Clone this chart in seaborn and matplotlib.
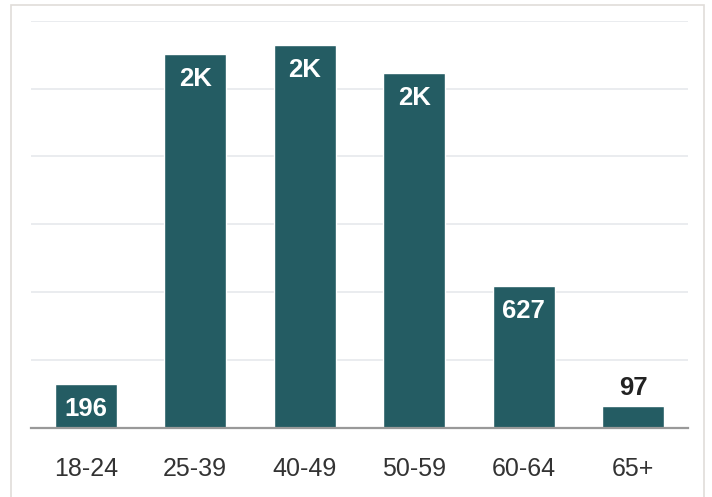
import matplotlib
matplotlib.use("Agg")
import matplotlib.pyplot as plt
import seaborn as sns
import pandas as pd
from matplotlib.patches import Rectangle

categories = ["18-24", "25-39", "40-49", "50-59", "60-64", "65+"]
values = [196, 1654, 1694, 1571, 627, 97]
y_ticks = [0, 300, 600, 900, 1200, 1500, 1800]

sns.set_theme(style="white")
plt.rcParams["font.family"] = ["Liberation Sans", "DejaVu Sans"]

W, H = 712, 497
fig = plt.figure(figsize=(W / 100, H / 100), dpi=100)
ax = fig.add_axes([31 / W, (H - 428) / H, (688 - 31) / W, (428 - 20.7) / H])

df = pd.DataFrame({"age": categories, "count": values})
sns.barplot(data=df, x="age", y="count", color="#245c63", saturation=1,
            width=0.566, ax=ax, zorder=3)

ax.set_ylim(0, 1800)
ax.set_xlim(-0.5, len(categories) - 0.5)
ax.set_yticks(y_ticks)
ax.yaxis.grid(True, color="#e6e9ec", linewidth=1.2, zorder=0)
ax.set_axisbelow(True)
ax.tick_params(axis="y", left=False, labelleft=False)
ax.tick_params(axis="x", bottom=False, labelsize=18, colors="#333333", pad=15)
ax.set_xlabel("")
ax.set_ylabel("")
for s in ["top", "right", "left"]:
    ax.spines[s].set_visible(False)
ax.spines["bottom"].set_color("#999999")
ax.spines["bottom"].set_linewidth(1.6)
ax.spines["bottom"].set_zorder(4)

for i, v in enumerate(values):
    label = f"{round(v / 1000)}K" if v >= 1000 else str(v)
    if v >= 150:
        ax.annotate(label, (i, v), xytext=(0, -18), textcoords="offset points",
                    ha="center", va="center", color="white", fontsize=18.5,
                    fontweight="bold", zorder=5)
    else:
        ax.annotate(label, (i, v), xytext=(0, 13), textcoords="offset points",
                    ha="center", va="center", color="#222222", fontsize=18.5,
                    fontweight="bold", zorder=5)

fig.patches.append(Rectangle((11 / W, -0.02), (704 - 11) / W, (H - 5) / H + 0.02,
                             transform=fig.transFigure, fill=False,
                             edgecolor="#e0ddd9", linewidth=1.2))

fig.savefig("out.png", dpi=100)
